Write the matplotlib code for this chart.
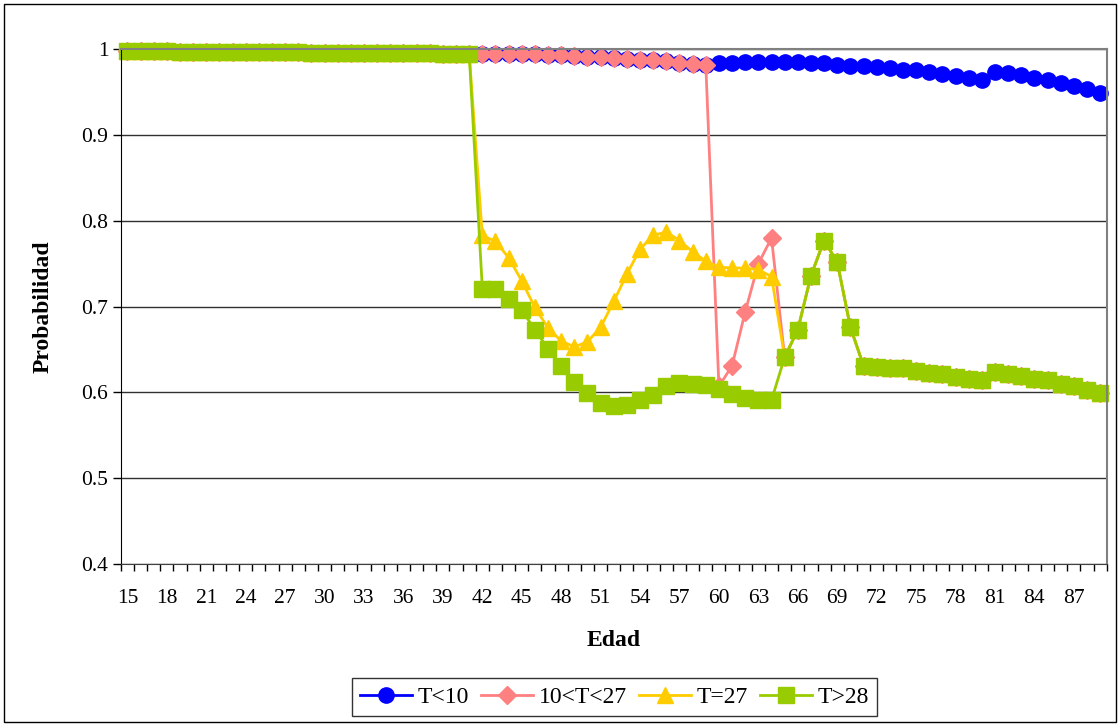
import matplotlib.pyplot as plt
import matplotlib.patches as patches
import numpy as np

plt.rcParams['font.family'] = ['Liberation Serif', 'DejaVu Serif']

# ages 15..89
edad = np.arange(15, 90)

# shared part, ages 15..41
comun_15_41 = [0.998, 0.998, 0.998, 0.998, 0.997, 0.997, 0.997, 0.997, 0.997,
               0.997, 0.997, 0.997, 0.997, 0.997, 0.996, 0.996, 0.996, 0.996,
               0.996, 0.996, 0.996, 0.996, 0.996, 0.996, 0.995, 0.995, 0.995]

# T<10 / 10<T<27 coincide for ages 42..59
comun_42_59 = [0.995, 0.995, 0.994, 0.994, 0.994, 0.993, 0.993, 0.992, 0.991,
               0.991, 0.990, 0.989, 0.988, 0.987, 0.986, 0.984, 0.983, 0.982]

blue_60_89 = [0.984, 0.984, 0.985, 0.985, 0.985, 0.985, 0.985, 0.984, 0.984, 0.982,
              0.981, 0.981, 0.979, 0.978, 0.976, 0.976, 0.974, 0.971, 0.969, 0.967,
              0.964, 0.974, 0.972, 0.970, 0.967, 0.964, 0.961, 0.957, 0.954, 0.949]

pink_60_64 = [0.607, 0.631, 0.694, 0.750, 0.780]

yellow_42_64 = [0.783, 0.776, 0.757, 0.730, 0.699, 0.675, 0.660, 0.653, 0.659, 0.676,
                0.706, 0.738, 0.767, 0.783, 0.787, 0.777, 0.764, 0.753, 0.746, 0.745,
                0.745, 0.743, 0.735]

green_42_64 = [0.721, 0.721, 0.709, 0.696, 0.673, 0.651, 0.631, 0.612, 0.599, 0.588,
               0.584, 0.585, 0.591, 0.597, 0.607, 0.611, 0.610, 0.609, 0.604, 0.598,
               0.593, 0.591, 0.591]

# all of the three upper groups merge with T>28 from age 65
green_65_89 = [0.641, 0.673, 0.736, 0.777, 0.752, 0.676, 0.631, 0.630, 0.629, 0.628,
               0.625, 0.623, 0.621, 0.618, 0.616, 0.614, 0.624, 0.622, 0.619, 0.616,
               0.614, 0.610, 0.607, 0.603, 0.599]

t_lt10 = comun_15_41 + comun_42_59 + blue_60_89
t_10_27 = comun_15_41 + comun_42_59 + pink_60_64 + green_65_89
t_eq27 = comun_15_41 + yellow_42_64 + green_65_89
t_gt28 = comun_15_41 + green_42_64 + green_65_89

series = [
    ('T<10', t_lt10, '#0000FF', 'o', 11),
    ('10<T<27', t_10_27, '#FF8080', 'D', 9.5),
    ('T=27', t_eq27, '#FFCC00', '^', 11.5),
    ('T>28', t_gt28, '#99CC00', 's', 11.5),
]

fig = plt.figure(figsize=(11.19, 7.24), dpi=100)
ax = fig.add_axes([0.108, 0.221, 0.881, 0.711])

for nombre, vals, color, mk, ms in series:
    ax.plot(edad, vals, color=color, marker=mk, markersize=ms, lw=2,
            markeredgecolor=color, label=nombre, clip_on=False)

ax.set_xlim(14.5, 89.5)
ax.set_ylim(0.4, 1.0)
ax.set_yticks([0.4, 0.5, 0.6, 0.7, 0.8, 0.9, 1.0])
ax.set_yticklabels(['0.4', '0.5', '0.6', '0.7', '0.8', '0.9', '1'])
ax.set_xticks(np.arange(15, 88, 3))
ax.set_xticks(np.arange(14.5, 90, 1), minor=True)
ax.tick_params(axis='x', which='major', length=0, pad=18, labelsize=15.5)
ax.tick_params(axis='x', which='minor', length=5, width=1, direction='out')
ax.tick_params(axis='y', length=6, width=1, pad=3, labelsize=15.5)
ax.yaxis.grid(True, color='#303030', lw=1)
ax.set_axisbelow(True)

for s in ['top', 'right']:
    ax.spines[s].set_color('#808080')
    ax.spines[s].set_linewidth(1.5)
ax.spines['left'].set_color('black')
ax.spines['bottom'].set_color('#404040')

ax.set_xlabel('Edad', fontsize=17, fontweight='bold', labelpad=16)
ax.set_ylabel('Probabilidad', fontsize=17, fontweight='bold', labelpad=20)

leg = fig.legend(loc='lower center', bbox_to_anchor=(0.549, 0.004), ncol=4,
                 fontsize=17, frameon=True, fancybox=False, handlelength=2.2,
                 columnspacing=0.5, handletextpad=0.25, borderpad=0.35,
                 borderaxespad=0.2)
leg.get_frame().set_edgecolor('black')
leg.get_frame().set_linewidth(1)

fig.patches.append(patches.Rectangle((0.004, 0.003), 0.993, 0.992, transform=fig.transFigure,
                                     fill=False, edgecolor='black', lw=1))

fig.savefig('out.png', dpi=100)
